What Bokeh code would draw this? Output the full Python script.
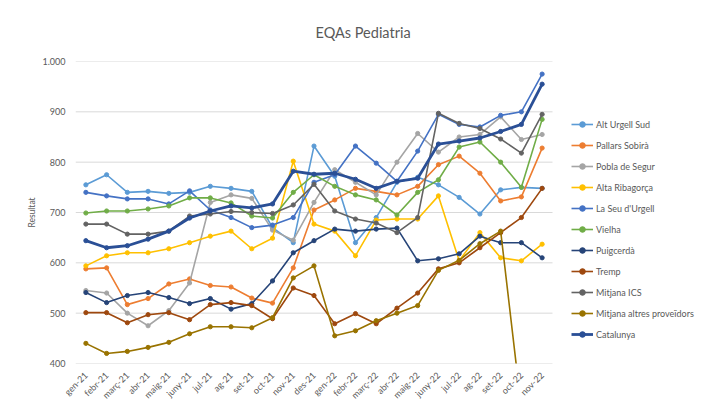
import math
from bokeh.plotting import figure
from bokeh.models import Range1d, FixedTicker, Legend, LegendItem
from bokeh.embed import file_html
from bokeh.resources import INLINE

NAN = float("nan")

months = ["gen-21", "febr-21", "març-21", "abr-21", "maig-21", "juny-21", "jul-21",
          "ag-21", "set-21", "oct-21", "nov-21", "des-21", "gen-22", "febr-22",
          "març-22", "abr-22", "maig-22", "juny-22", "jul-22", "ag-22", "set-22",
          "oct-22", "nov-22"]

series_names = ["Alt Urgell Sud", "Pallars Sobirà", "Pobla de Segur", "Alta Ribagorça",
                "La Seu d'Urgell", "Vielha", "Puigcerdà", "Tremp", "Mitjana ICS",
                "Mitjana altres proveïdors", "Catalunya"]

alt_urgell_sud = [755, 775, 740, 742, 738, 740, 752, 748, 742, 670, 640, 832, 772, 640, 690, 760, 770, 755, 730, 697, 745, 750, 748]
pallars_sobira = [588, 590, 517, 529, 558, 568, 555, 552, 530, 520, 590, 705, 725, 748, 742, 735, 752, 795, 812, 778, 723, 731, 828]
pobla_segur = [545, 540, 500, 475, 505, 560, 720, 735, 728, 665, 645, 720, 785, 760, 735, 800, 857, 820, 850, 855, 890, 845, 855]
alta_ribagorca = [594, 614, 620, 620, 628, 640, 653, 663, 628, 649, 802, 677, 663, 614, 685, 687, 687, 733, 604, 660, 610, 604, 637]
la_seu = [740, 733, 727, 727, 717, 743, 705, 690, 670, 675, 690, 760, 775, 832, 798, 762, 822, 895, 875, 870, 893, 900, 975]
vielha = [699, 703, 703, 707, 713, 729, 729, 719, 693, 689, 740, 775, 752, 735, 725, 695, 740, 765, 830, 840, 800, 750, 885]
puigcerda = [541, 521, 535, 541, 531, 519, 529, 508, 519, 564, 620, 644, 667, 663, 667, 669, 604, 608, 618, 653, 640, 640, 610]
tremp = [501, 501, 481, 497, 501, 487, 517, 521, 515, 489, 550, 535, 479, 499, 479, 510, 540, 588, 600, 630, 660, 690, 748]
mitjana_ics = [677, 677, 657, 657, 663, 693, 697, 702, 700, 698, 715, 756, 703, 687, 679, 660, 690, 897, 877, 867, 846, 818, 895]
mitjana_altres = [440, 420, 424, 432, 442, 459, 473, 473, 471, 491, 570, 594, 455, 465, 485, 500, 515, 585, 605, 638, 663, 310, NAN]
catalunya = [644, 630, 634, 647, 663, 689, 703, 713, 709, 717, 782, 776, 778, 766, 748, 762, 768, 836, 842, 848, 861, 875, 955]

y_ticks = [400, 500, 600, 700, 800, 900, 1000]
y_tick_labels = ["400", "500", "600", "700", "800", "900", "1.000"]

all_values = [alt_urgell_sud, pallars_sobira, pobla_segur, alta_ribagorca, la_seu, vielha,
              puigcerda, tremp, mitjana_ics, mitjana_altres, catalunya]
colors = ["#5B9BD5", "#ED7D31", "#A5A5A5", "#FFC000", "#4472C4", "#70AD47",
          "#264478", "#9E480E", "#636363", "#997300", "#2A4F96"]
widths = [1.6] * 10 + [2.8]

FONT = "Lato"
TXT = "#595959"

xs = list(range(len(months)))
n = len(months)
# the frame also holds the legend area on the right; categories occupy 477 px of 635 px
x_end = -0.5 + n * 635.0 / 477.0

p = figure(width=710, height=408, x_range=Range1d(-0.5, x_end), y_range=Range1d(400, 1000),
           output_backend="svg", toolbar_location=None,
           min_border_left=75, min_border_right=0, min_border_top=61, min_border_bottom=45)

p.title.text = "EQAs Pediatria"
p.title.align = "left"
p.title.offset = 240
p.title.standoff = 41
p.title.text_font = FONT
p.title.text_font_style = "normal"
p.title.text_font_size = "14.5px"
p.title.text_color = TXT

p.outline_line_color = None
p.xgrid.grid_line_color = None
p.ygrid.grid_line_color = None

# horizontal gridlines limited to the category span
p.segment(x0=[-0.5] * len(y_ticks), x1=[n - 0.5] * len(y_ticks), y0=y_ticks, y1=y_ticks,
          line_color="#D9D9D9", line_width=1)

p.yaxis.ticker = FixedTicker(ticks=y_ticks)
p.yaxis.major_label_overrides = {t: l for t, l in zip(y_ticks, y_tick_labels)}
p.yaxis.axis_line_color = None
p.yaxis.major_tick_line_color = None
p.yaxis.minor_tick_line_color = None
p.yaxis.major_label_text_font = FONT
p.yaxis.major_label_text_font_size = "9px"
p.yaxis.major_label_text_color = TXT
p.yaxis.major_label_standoff = 4
p.yaxis.axis_label = "Resultat"
p.yaxis.axis_label_text_font = FONT
p.yaxis.axis_label_text_font_size = "8.5px"
p.yaxis.axis_label_text_font_style = "normal"
p.yaxis.axis_label_text_color = TXT
p.yaxis.axis_label_standoff = 2

p.xaxis.ticker = FixedTicker(ticks=xs)
p.xaxis.major_label_overrides = {i: m for i, m in zip(xs, months)}
p.xaxis.axis_line_color = None
p.xaxis.major_tick_line_color = None
p.xaxis.minor_tick_line_color = None
p.xaxis.major_label_orientation = math.pi / 4
p.xaxis.major_label_text_font = FONT
p.xaxis.major_label_text_font_size = "9px"
p.xaxis.major_label_text_color = TXT
p.xaxis.major_label_standoff = 4

items = []
for name, vals, col, w in zip(series_names, all_values, colors, widths):
    lr = p.line(xs, vals, line_color=col, line_width=w)
    sr = p.scatter(xs, vals, size=4.2, fill_color=col, line_color=col)
    items.append(LegendItem(label=name, renderers=[lr, sr]))

legend = Legend(items=items, location=(496, 22), orientation="vertical",
                glyph_width=22, glyph_height=14, label_height=14, spacing=7,
                label_standoff=3, padding=0, margin=0,
                label_text_font=FONT, label_text_font_size="9px", label_text_color=TXT,
                border_line_color=None, background_fill_alpha=0)
p.add_layout(legend)

open("out.html", "w").write(file_html(p, INLINE))
